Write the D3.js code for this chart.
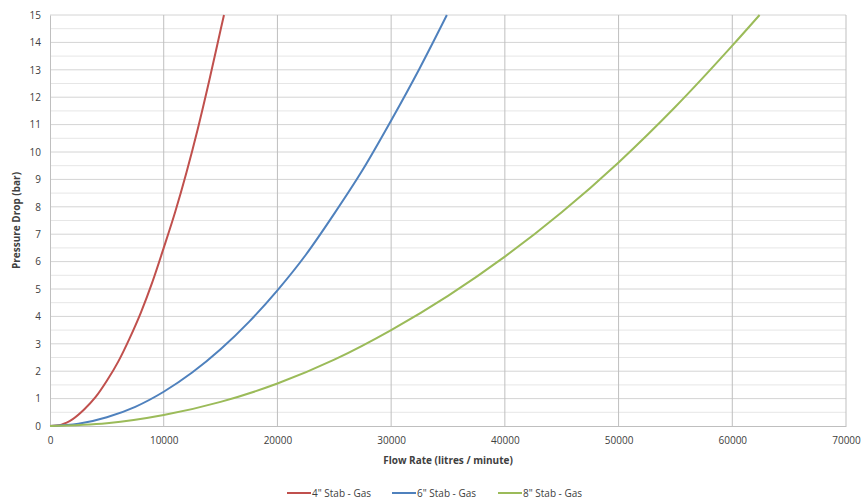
<!DOCTYPE html>
<html>
<head>
<meta charset="utf-8">
<script src="https://cdn.jsdelivr.net/npm/d3@7"></script>
<style>
  body { margin: 0; background: #fff; }
  svg text { font-family: "Open Sans", "Liberation Sans", sans-serif; fill: #404040; }
</style>
</head>
<body>
<svg id="chart" width="864" height="499"></svg>
<script>
// flow rate (litres / minute) vs pressure drop (bar)
var flow4 = [0, 1000, 2000, 3000, 4000, 5000, 6000, 7000, 8000, 9000, 10000, 11000, 12000, 13000, 14000, 15000, 15300];
var drop4 = [0, 0.05, 0.25, 0.6, 1.05, 1.65, 2.35, 3.2, 4.15, 5.25, 6.5, 7.8, 9.25, 10.85, 12.6, 14.45, 15];

var flow6 = [0, 2500, 5000, 7500, 10000, 12500, 15000, 17500, 20000, 22500, 25000, 27500, 30000, 32500, 34900];
var drop6 = [0, 0.08, 0.32, 0.7, 1.25, 1.95, 2.8, 3.8, 4.95, 6.25, 7.75, 9.35, 11.15, 13.05, 15];

var flow8 = [0, 5000, 10000, 15000, 20000, 25000, 30000, 35000, 40000, 45000, 50000, 55000, 60000, 62400];
var drop8 = [0, 0.1, 0.4, 0.88, 1.55, 2.42, 3.5, 4.75, 6.18, 7.8, 9.62, 11.65, 13.88, 15];

var seriesNames = ['4" Stab - Gas', '6" Stab - Gas', '8" Stab - Gas'];
var seriesColors = ["#c0504d", "#4f81bd", "#9bbb59"];
var xTicks = [0, 10000, 20000, 30000, 40000, 50000, 60000, 70000];
var yTicks = d3.range(0, 16);

var margin = {top: 15, right: 18, bottom: 73, left: 50},
	width = 864 - margin.left - margin.right,
	height = 499 - margin.top - margin.bottom;

var series = [
	{name: seriesNames[0], color: seriesColors[0], values: flow4.map(function(f, i) { return {x: f, y: drop4[i]}; })},
	{name: seriesNames[1], color: seriesColors[1], values: flow6.map(function(f, i) { return {x: f, y: drop6[i]}; })},
	{name: seriesNames[2], color: seriesColors[2], values: flow8.map(function(f, i) { return {x: f, y: drop8[i]}; })}
];

var x = d3.scaleLinear().domain([0, 70000]).range([0, width]);
var y = d3.scaleLinear().domain([0, 15]).range([height, 0]);

var svg = d3.select("#chart");
var g = svg.append("g")
	.attr("transform", "translate(" + margin.left + "," + margin.top + ")");

// minor horizontal grid (every 0.5)
g.append("g")
	.selectAll("line")
	.data(d3.range(0.5, 15, 1))
	.enter()
	.append("line")
	.attr("x1", 0).attr("x2", width)
	.attr("y1", function(d) { return y(d); })
	.attr("y2", function(d) { return y(d); })
	.attr("stroke", "#e6e6e6");

// major horizontal grid
g.append("g")
	.selectAll("line")
	.data(yTicks.slice(1))
	.enter()
	.append("line")
	.attr("x1", 0).attr("x2", width)
	.attr("y1", function(d) { return y(d); })
	.attr("y2", function(d) { return y(d); })
	.attr("stroke", "#d4d4d4");

// vertical grid
g.append("g")
	.selectAll("line")
	.data(xTicks.slice(1))
	.enter()
	.append("line")
	.attr("x1", function(d) { return x(d); })
	.attr("x2", function(d) { return x(d); })
	.attr("y1", 0).attr("y2", height)
	.attr("stroke", "#bfbfbf");

// axes
var xAxis = g.append("g")
	.attr("transform", "translate(0," + height + ")")
	.call(d3.axisBottom(x).tickValues(xTicks).tickFormat(d3.format("d")).tickSize(0).tickPadding(11));
xAxis.select(".domain").attr("stroke", "#bfbfbf");
xAxis.selectAll("text").style("font-size", "10px").attr("fill", "#404040");

var yAxis = g.append("g")
	.call(d3.axisLeft(y).tickValues(yTicks).tickSize(0).tickPadding(9));
yAxis.select(".domain").attr("stroke", "#bfbfbf");
yAxis.selectAll("text").style("font-size", "10px").attr("fill", "#404040");

// lines
var line = d3.line()
	.x(function(d) { return x(d.x); })
	.y(function(d) { return y(d.y); })
	.curve(d3.curveMonotoneX);

g.append("g")
	.selectAll("path")
	.data(series)
	.enter()
	.append("path")
	.attr("fill", "none")
	.attr("stroke", function(d) { return d.color; })
	.attr("stroke-width", 2)
	.attr("stroke-linejoin", "round")
	.attr("d", function(d) { return line(d.values); });

// axis titles
svg.append("text")
	.attr("x", margin.left + x(35000))
	.attr("y", 464)
	.attr("text-anchor", "middle")
	.style("font-size", "10px")
	.style("font-weight", "bold")
	.text("Flow Rate (litres / minute)");

svg.append("text")
	.attr("transform", "translate(20," + (margin.top + height / 2) + ") rotate(-90)")
	.attr("text-anchor", "middle")
	.style("font-size", "10px")
	.style("font-weight", "bold")
	.text("Pressure Drop (bar)");

// legend
var legendX = [287, 392, 498];
var legend = svg.append("g")
	.selectAll("g")
	.data(series)
	.enter()
	.append("g")
	.attr("transform", function(d, i) { return "translate(" + legendX[i] + ",493)"; });

legend.append("line")
	.attr("x1", 0).attr("x2", 24)
	.attr("stroke", function(d) { return d.color; })
	.attr("stroke-width", 2);

legend.append("text")
	.attr("x", 25)
	.attr("dy", "0.35em")
	.style("font-size", "10px")
	.text(function(d) { return d.name; });
</script>
</body>
</html>
